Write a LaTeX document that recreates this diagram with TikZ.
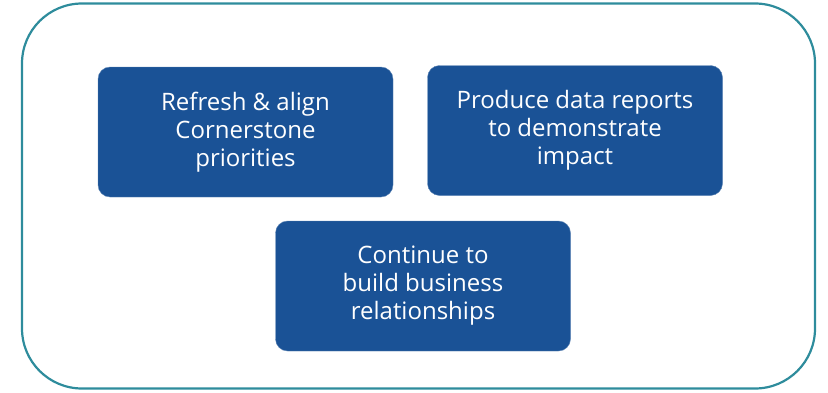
\documentclass[tikz,border=0pt]{standalone}
\usepackage{fontspec}
\setmainfont{Open Sans}
\definecolor{frameteal}{HTML}{2E8C9C}
\definecolor{boxblue}{HTML}{1A5296}
\begin{document}
\begin{tikzpicture}[x=1pt,y=1pt,
  goal/.style={draw=boxblue!70,fill=boxblue,rounded corners=12pt,minimum width=295pt,minimum height=130pt,
    text=white,align=center,font=\fontsize{24}{28}\selectfont,inner sep=0pt}]
\useasboundingbox (0,0) rectangle (828,392);
\draw[frameteal,line width=2.2pt,rounded corners=60pt] (22,3.5) rectangle (815,388.5);
\node[goal] (refresh) at (245.5,260) {Refresh \& align\\Cornerstone\\priorities};
\node[goal] (produce) at (575,261.5) {Produce data reports\\to demonstrate\\impact};
\node[goal] (continue) at (423,106) {Continue to\\build business\\relationships};
\end{tikzpicture}
\end{document}
